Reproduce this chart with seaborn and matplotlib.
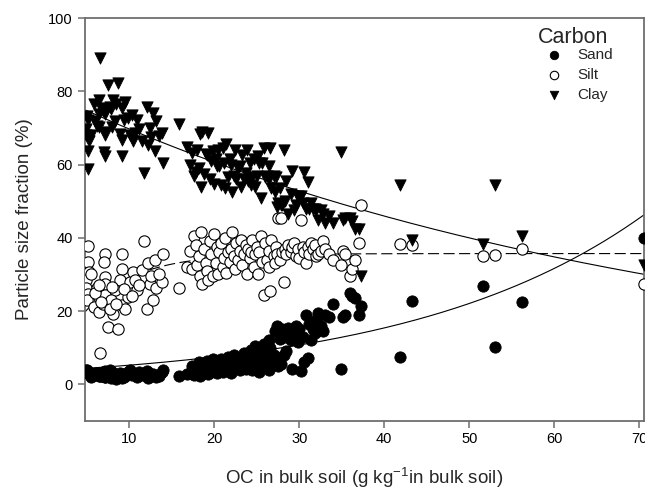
import numpy as np
import pandas as pd
import matplotlib
matplotlib.use("Agg")
import matplotlib.pyplot as plt
import seaborn as sns

# organic carbon in bulk soil (g/kg) for each sample
oc = [
    5.1, 5.2, 5.3, 4.9, 4.95, 5.2, 5.0, 5.8, 6.2, 6.4, 6.4, 7.1, 7.05, 7.1, 7.15,
    7.1, 6.9, 7.5, 8.1, 8.7, 9.1, 9.1, 8.9, 8.3, 7.9, 9.1, 9.5, 9.9, 6.6, 10.1,
    10.5, 11.7, 11.5, 12.2, 12.4, 12.1, 12.8, 13.2, 13.0, 14.0, 13.9, 10.9, 10.7,
    5.5, 6.0, 6.7, 7.7, 8.4, 8.0, 9.4, 6.5, 12.6, 13.5, 11.2, 10.3,
    15.8, 16.8, 17.2, 17.4, 17.6, 17.8, 18.0, 18.2, 18.3, 18.5, 18.6, 18.8, 19.0,
    19.1, 19.3, 19.5, 19.6, 19.8, 20.0, 20.2, 20.3, 20.5, 20.6, 20.8, 21.0, 21.1,
    21.3, 21.4, 21.6, 21.8, 22.0, 22.1, 22.3, 22.5, 22.6, 22.8, 23.0, 23.2, 23.3,
    23.5, 23.7, 23.8, 24.0, 24.2, 24.3, 24.5, 24.7, 24.8, 25.0, 25.1, 25.3, 25.5,
    25.6, 25.8, 26.0, 26.2, 26.4, 26.5, 26.7, 26.6, 27.0, 27.1, 27.3, 27.4, 27.5,
    27.7, 27.8, 28.0, 28.2, 28.3, 28.5, 28.7, 29.0, 29.2, 29.4, 29.6, 29.8, 30.0,
    30.2, 30.4, 30.6, 30.8, 31.0, 31.2, 31.4, 31.6, 31.8, 32.0, 32.2, 32.5, 32.8,
    33.0, 33.5, 34.0, 34.9, 35.2, 35.4, 36.0, 36.2, 36.5, 37.0, 37.3,
    41.8, 43.3, 51.6, 53.0, 56.2, 70.5,
]
sand = [
    3.5, 3.0, 2.8, 3.5, 4.0, 3.2, 3.8, 2.5, 3.0, 2.2, 2.6, 2.0, 3.0, 2.5, 3.6,
    2.0, 3.4, 2.5, 3.0, 2.6, 2.1, 1.7, 3.2, 2.4, 1.8, 2.9, 2.2, 3.5, 2.4, 4.0,
    3.0, 3.2, 2.5, 1.8, 2.4, 3.6, 2.8, 2.0, 2.3, 3.8, 3.3, 2.1, 2.9,
    2.0, 3.0, 2.2, 3.9, 1.5, 3.3, 1.9, 2.8, 2.9, 2.2, 3.4, 2.6,
    2.3, 2.8, 3.2, 5.0, 2.5, 4.0, 3.5, 6.0, 2.2, 4.5, 3.0, 5.5, 4.0,
    6.5, 2.8, 5.0, 3.5, 6.8, 4.2, 5.5, 3.0, 6.0, 4.5, 7.0, 3.5, 5.2,
    6.5, 4.0, 7.5, 5.0, 3.2, 6.0, 8.0, 4.5, 5.5, 7.0, 3.8, 6.5, 5.0,
    8.5, 4.2, 6.0, 7.5, 5.0, 9.5, 4.0, 6.5, 10.5, 5.5, 7.8, 3.5, 8.5,
    6.0, 11.0, 5.0, 9.0, 4.0, 12.0, 7.0, 10.0, 8.0, 14.5, 6.0, 16.0, 5.0,
    12.5, 5.5, 15.0, 8.0, 13.0, 9.0, 15.5, 12.0, 4.3, 14.0, 16.0, 11.5, 15.0,
    3.6, 13.0, 6.0, 19.0, 7.3, 16.5, 12.0, 15.0, 14.0, 17.5, 19.5, 16.0, 14.5,
    19.0, 18.5, 22.0, 4.2, 18.5, 19.0, 25.0, 24.0, 23.5, 19.0, 21.5,
    7.4, 22.7, 26.8, 10.3, 22.6, 40.0,
]
silt = [
    37.8, 33.3, 30.7, 28.4, 26.2, 24.6, 23.0, 21.1, 26.4, 23.9, 19.8, 35.7, 33.5, 29.3, 27.5,
    24.3, 22.0, 15.7, 19.3, 15.2, 35.7, 31.6, 28.4, 25.7, 23.0, 21.6, 20.7, 23.9, 8.6, 28.0,
    30.7, 39.1, 31.2, 33.0, 27.5, 20.7, 23.0, 26.2, 33.9, 35.7, 28.0, 25.7, 28.4,
    30.0, 25.0, 22.5, 20.5, 22.0, 26.5, 26.0, 27.0, 29.5, 30.0, 27.0, 24.0,
    26.2, 32.0, 36.5, 31.5, 40.5, 38.0, 32.5, 35.0, 29.5, 41.5, 27.5, 37.0, 33.0,
    31.0, 28.5, 39.0, 35.5, 29.5, 41.0, 33.0, 37.5, 30.0, 36.0, 38.5, 32.0, 34.5,
    40.0, 30.5, 36.0, 33.5, 37.0, 41.5, 35.0, 31.5, 38.5, 34.0, 36.5, 39.5, 32.5,
    35.5, 38.0, 30.0, 37.0, 34.5, 36.0, 39.5, 32.0, 35.5, 37.5, 30.0, 36.0, 40.5,
    33.5, 24.5, 38.5, 34.0, 36.5, 32.0, 39.5, 25.5, 35.0, 33.0, 37.5, 35.5, 45.5,
    34.0, 45.5, 36.0, 28.0, 37.0, 35.5, 38.0, 36.0, 37.5, 38.5, 35.0, 37.0, 34.5,
    45.0, 37.5, 36.0, 33.0, 37.5, 35.5, 38.5, 37.0, 38.0, 35.0, 35.5, 36.5, 39.0,
    37.0, 35.5, 34.0, 32.5, 36.5, 35.5, 29.5, 31.5, 34.0, 38.5, 49.0,
    38.2, 38.0, 35.0, 35.3, 37.0, 27.5,
]
clay = [
    58.7, 63.7, 66.5, 68.1, 69.8, 72.2, 73.2, 76.4, 70.6, 73.9, 77.6, 62.3, 63.5, 68.2, 68.9,
    73.7, 74.6, 81.8, 77.7, 82.2, 62.2, 66.7, 68.4, 71.9, 75.2, 75.5, 77.1, 72.6, 89.0, 68.0,
    66.3, 57.7, 66.3, 65.2, 70.1, 75.7, 74.2, 71.8, 63.8, 60.5, 68.7, 72.2, 68.7,
    68.0, 72.0, 75.3, 75.6, 76.5, 70.2, 72.1, 70.2, 67.6, 67.8, 69.6, 73.4,
    71.2, 64.8, 60.0, 63.2, 57.0, 58.0, 64.0, 59.0, 68.3, 54.0, 69.0, 57.5, 63.0,
    62.5, 68.5, 56.0, 61.0, 63.7, 54.8, 61.5, 59.5, 64.0, 59.5, 54.5, 64.5, 60.3,
    53.5, 65.5, 56.5, 61.5, 59.8, 52.5, 57.0, 64.0, 56.0, 59.0, 59.7, 54.0, 62.5,
    56.0, 57.8, 64.0, 55.5, 60.5, 54.5, 56.5, 61.5, 54.0, 57.0, 62.2, 60.5, 51.0,
    60.5, 64.5, 56.5, 57.0, 59.5, 56.0, 53.5, 64.5, 57.0, 52.5, 56.5, 48.5, 49.5,
    53.5, 49.0, 49.0, 64.0, 50.0, 55.5, 46.5, 52.0, 58.2, 47.5, 49.0, 51.5, 50.5,
    51.4, 49.5, 58.0, 48.0, 55.2, 48.0, 49.5, 48.0, 48.0, 47.5, 45.0, 47.5, 46.5,
    44.0, 46.0, 44.0, 63.3, 45.0, 45.5, 45.5, 44.5, 42.5, 42.5, 29.5,
    54.5, 39.3, 38.3, 54.5, 40.5, 32.5,
]

# fitted curves
clay_fit = (80.1, -0.0139)   # a * exp(b * x)
silt_fit = (35.7, 0.168)     # a * (1 - exp(-b * x))
sand_fit = (3.65, 0.036)     # a * exp(b * x)

x_lim = (4.8, 70.55)
y_lim = (-10, 100)

df = pd.DataFrame({"oc": oc, "Sand": sand, "Silt": silt, "Clay": clay})

sns.set_theme(style="ticks")
plt.rcParams["font.family"] = ["Liberation Sans", "DejaVu Sans"]
plt.rcParams["mathtext.fontset"] = "custom"
plt.rcParams["mathtext.rm"] = "Liberation Sans"

edge = "#6e6e6e"

fig = plt.figure(figsize=(6.45, 4.92), dpi=100)
ax = fig.add_axes([85 / 645, 71 / 492, 559 / 645, 403 / 492])

xx = np.linspace(x_lim[0], x_lim[1], 300)
sns.lineplot(x=xx, y=clay_fit[0] * np.exp(clay_fit[1] * xx), color="black",
             linewidth=0.8, ax=ax, zorder=2)
sns.lineplot(x=xx, y=silt_fit[0] * (1 - np.exp(-silt_fit[1] * xx)), color="black",
             linewidth=0.8, dashes=(10, 4), ax=ax, zorder=2)
sns.lineplot(x=xx, y=sand_fit[0] * np.exp(sand_fit[1] * xx), color="black",
             linewidth=0.8, ax=ax, zorder=2)

sns.scatterplot(data=df, x="oc", y="Sand", marker="o", s=66, color="black",
                edgecolor="black", linewidth=0.6, ax=ax, zorder=3, label="Sand")
sns.scatterplot(data=df, x="oc", y="Silt", marker="o", s=66, color="white",
                edgecolor="black", linewidth=0.8, ax=ax, zorder=3, label="Silt")
sns.scatterplot(data=df, x="oc", y="Clay", marker="v", s=66, color="black",
                edgecolor="black", linewidth=0.6, ax=ax, zorder=3, label="Clay")

ax.set_xlim(*x_lim)
ax.set_ylim(*y_lim)
ax.set_xticks([10, 20, 30, 40, 50, 60, 70])
ax.set_yticks([0, 20, 40, 60, 80, 100])

for sp in ax.spines.values():
    sp.set_visible(True)
    sp.set_color(edge)
    sp.set_linewidth(1.3)
ax.tick_params(axis="both", direction="out", length=5, width=1.1, color=edge,
               labelsize=10.5, labelcolor="black", pad=4)
ax.tick_params(axis="x", pad=3)

ax.set_xlabel(r"OC in bulk soil (g kg$^{\mathregular{-1}}$in bulk soil)", fontsize=13.5,
              labelpad=14)
ax.set_ylabel("Particle size fraction (%)", fontsize=13.5, labelpad=11)

# legend entries without title, title placed as text above them
ax.legend(loc="upper left", bbox_to_anchor=(0.8215, 0.926), frameon=False,
          fontsize=11, handlelength=1.3, handletextpad=0.85, labelspacing=0.4,
          borderpad=0, borderaxespad=0, markerscale=0.75)
ax.text(0.8104, 0.938, "Carbon", transform=ax.transAxes, fontsize=15.5,
        ha="left", va="baseline")

fig.savefig("out.png", dpi=100)
